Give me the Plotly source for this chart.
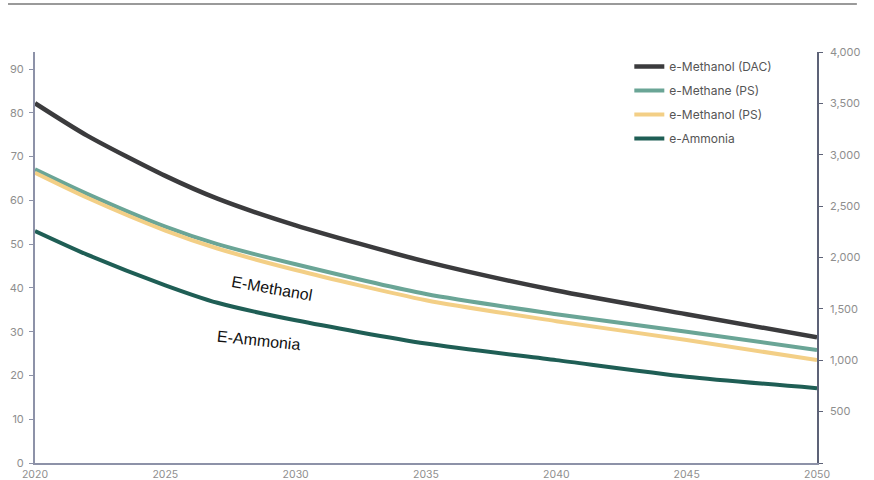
import plotly.graph_objects as go

# Production cost outlook for e-fuels, 2020-2050
years = [2020, 2022, 2025, 2027, 2030, 2035, 2040, 2045, 2050]

e_methanol_dac = [82.2, 74.8, 65.6, 60.4, 54.3, 46.0, 39.4, 34.0, 28.7]
e_methane_ps = [67.1, 61.5, 54.0, 50.0, 45.4, 38.6, 34.0, 30.0, 25.8]
e_methanol_ps = [66.3, 60.6, 53.1, 49.0, 44.1, 37.2, 32.4, 28.1, 23.5]
e_ammonia = [53.0, 47.6, 40.6, 36.6, 32.6, 27.3, 23.5, 19.7, 17.1]

series_names = ["e-Methanol (DAC)", "e-Methane (PS)", "e-Methanol (PS)", "e-Ammonia"]
series_values = [e_methanol_dac, e_methane_ps, e_methanol_ps, e_ammonia]
series_colors = ["#3b3b3d", "#6aa596", "#f3cf86", "#1f5e55"]
series_widths = [4.5, 4, 4, 4]

left_ticks = [0, 10, 20, 30, 40, 50, 60, 70, 80, 90]
right_ticks = [0, 500, 1000, 1500, 2000, 2500, 3000, 3500, 4000]
right_labels = ["", "500", "1,000", "1,500", "2,000", "2,500", "3,000", "3,500", "4,000"]
x_ticks = [2020, 2025, 2030, 2035, 2040, 2045, 2050]

fig = go.Figure()

for i, (name, vals, col, w) in enumerate(zip(series_names, series_values, series_colors, series_widths)):
    fig.add_trace(go.Scatter(
        x=years, y=vals, name=name, mode="lines",
        line=dict(color=col, width=w, shape="spline", smoothing=0.7),
        legendgroup=f"g{i}",
    ))

# invisible trace to activate the secondary axis
fig.add_trace(go.Scatter(x=[2020], y=[0], yaxis="y2", mode="markers",
                         marker=dict(opacity=0), showlegend=False, hoverinfo="skip"))

tick_font = dict(family="Inter, Lato, sans-serif", size=11, color="#8e8e8e")
axis_col = "#8d92a8"

fig.update_layout(
    width=874, height=480,
    margin=dict(l=35, r=57, t=52, b=17),
    plot_bgcolor="white", paper_bgcolor="white",
    showlegend=True,
    legend=dict(
        x=0.76, y=1.0, xanchor="left", yanchor="top",
        font=dict(family="Inter, Lato, sans-serif", size=12, color="#555555"),
        bgcolor="rgba(0,0,0,0)", tracegroupgap=5,
    ),
    xaxis=dict(
        range=[2020, 2050], tickvals=x_ticks, showgrid=False, zeroline=False,
        showline=True, linecolor=axis_col, linewidth=2, ticks="",
        tickfont=dict(family="Inter, Lato, sans-serif", size=10.5, color="#8e8e8e"),
        ticklabelstandoff=0, automargin=False,
    ),
    yaxis=dict(
        range=[0, 93.9], tickvals=left_ticks, showgrid=False, zeroline=False,
        showline=True, linecolor=axis_col, linewidth=2,
        ticks="outside", ticklen=4, tickcolor=axis_col, tickwidth=1,
        tickfont=tick_font, ticklabelstandoff=3, automargin=False,
    ),
    yaxis2=dict(
        range=[0, 4000], tickvals=right_ticks, ticktext=right_labels,
        overlaying="y", side="right", showgrid=False, zeroline=False,
        showline=True, linecolor="#5d6277", linewidth=1.5,
        ticks="outside", ticklen=4, tickcolor="#5d6277", tickwidth=1,
        tickfont=tick_font, ticklabelstandoff=5, automargin=False,
    ),
    shapes=[dict(
        type="line", xref="paper", yref="paper",
        x0=-0.0345, x1=1.051, y0=1.117, y1=1.117,
        line=dict(color="#9a9a9a", width=2),
    )],
    annotations=[
        dict(text="E-Methanol", x=2029.1, y=39.9, xref="x", yref="y",
             showarrow=False, textangle=10,
             font=dict(family="Liberation Sans, Arial, sans-serif", size=16, color="#111111")),
        dict(text="E-Ammonia", x=2028.6, y=28.1, xref="x", yref="y",
             showarrow=False, textangle=6,
             font=dict(family="Liberation Sans, Arial, sans-serif", size=16, color="#111111")),
    ],
)

fig.write_html("out.html")
